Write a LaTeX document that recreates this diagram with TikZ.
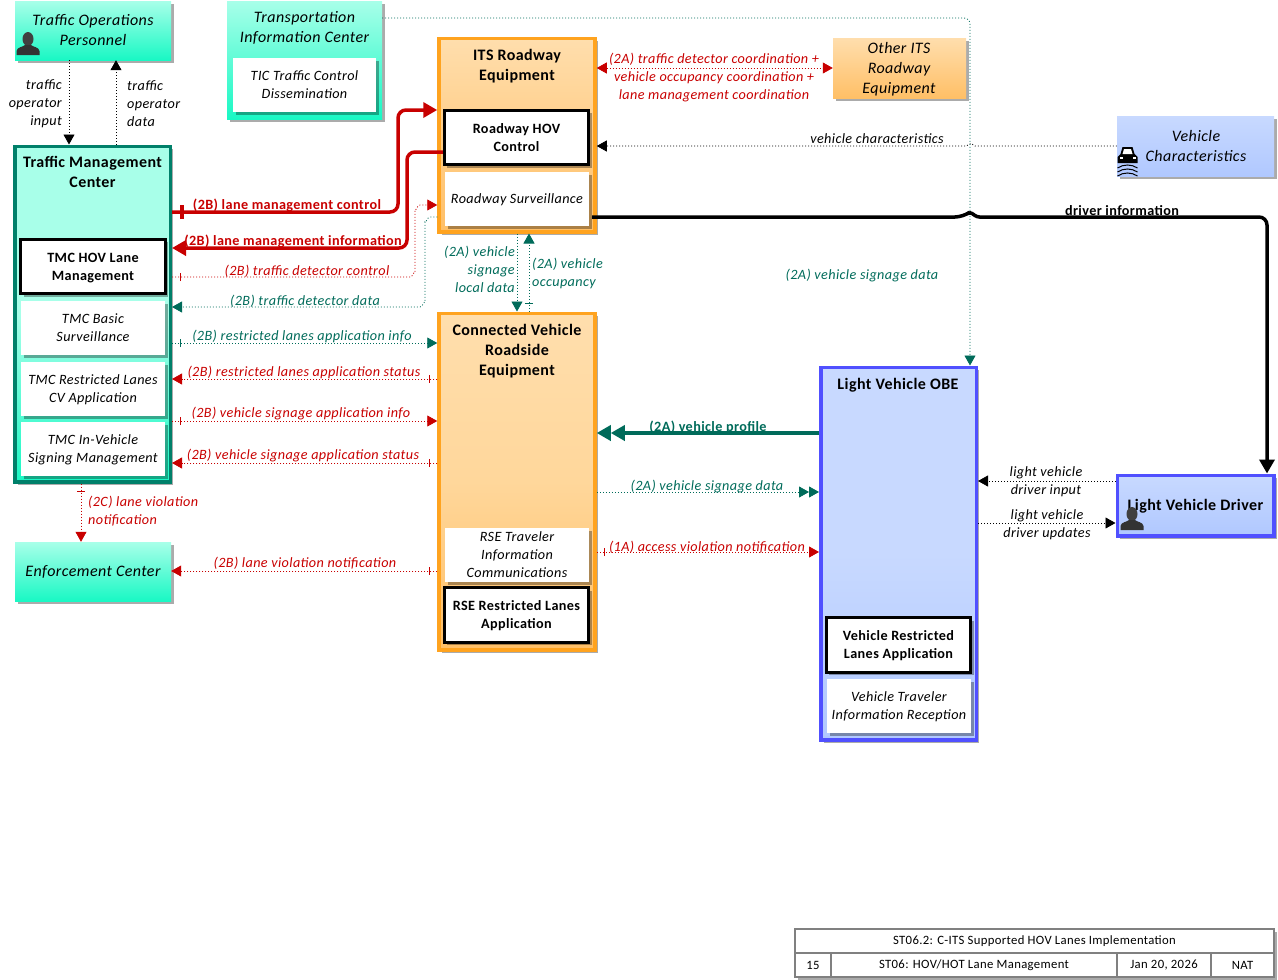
\documentclass[tikz,border=0pt]{standalone}
\usepackage{fontspec}
\setmainfont{Carlito}[LetterSpace=2.7]
\usetikzlibrary{arrows.meta,shadows,decorations.markings}
\definecolor{flow_teal}{HTML}{006B5A}
\definecolor{flow_red}{HTML}{C80000}
\definecolor{tmc_edge}{HTML}{00806A}
\definecolor{rse_edge}{HTML}{FFA31F}
\definecolor{obe_edge}{HTML}{5050FF}
\begin{document}
\begin{tikzpicture}[x=1pt,y=-1pt]
        \tikzstyle{box_shadow} = [drop shadow={shadow xshift=3pt, shadow yshift=-3pt, fill=black, opacity=0.33}]
        \tikzstyle{cyan_box} = [shape = rectangle, box_shadow, top color=cyan_top, bottom color=cyan_bot, inner sep=0pt]
        \tikzstyle{orange_box} = [shape = rectangle, box_shadow, top color=orange_top, bottom color=orange_bot, inner sep=0pt]
        \tikzstyle{blue_box} = [shape = rectangle, box_shadow, top color=blue_top, bottom color=blue_bot, inner sep=0pt]
        \tikzstyle{plain_app} = [shape = rectangle, box_shadow, fill=white, minimum width=144pt, minimum height=54pt, inner sep=0pt, align=center, text depth=0pt, font=\fontsize{14.2}{18}\selectfont\itshape]
        \tikzstyle{key_app} = [plain_app, draw=black, line width=3pt, minimum width=144.5pt, minimum height=54.5pt, font=\fontsize{14.2}{18}\selectfont\bfseries\upshape]
        \tikzstyle{head_text} = [align=center, inner sep=0pt, yshift=-1pt, font=\fontsize{16}{20}\selectfont\bfseries]
        \tikzstyle{name_text} = [align=center, inner sep=0pt, yshift=-1pt, font=\fontsize{16}{20}\selectfont\itshape]
        \tikzstyle{flow_text} = [align=center, inner sep=0pt, yshift=-1pt, font=\fontsize{14.2}{18}\selectfont\itshape]
        \tikzstyle{main_text} = [align=center, inner sep=0pt, yshift=-1pt, font=\fontsize{14.2}{18}\selectfont\bfseries]
        \tikzstyle{dot_flow} = [line width=0.8pt, dash pattern=on 1pt off 2pt, -{Triangle[length=10pt,width=11pt]}]
        \tikzstyle{main_flow} = [line width=3.5pt, rounded corners=8pt, -{Triangle[length=14pt,width=15pt]}]
        \tikzstyle{grid_cell} = [shape = rectangle, draw=black!50, line width=1.3pt, fill=white, inner sep=0pt, font=\fontsize{12.7}{14}\selectfont]
        \tikzset{
          cross_bar/.style={postaction={decorate, decoration={markings,
            mark=at position #1 with {\draw[solid,-] (0,-4pt) -- (0,4pt);}}}},
          cross_bar_main/.style={postaction={decorate, decoration={markings,
            mark=at position #1 with {\draw[solid,-] (0,-7pt) -- (0,7pt);}}}},
          person_icon/.pic={
            \fill[black!75] (0,-5) ellipse [x radius=5.5, y radius=7];
            \fill[black!80] (-11.5,11) -- (-11.5,7) .. controls (-11,3) and (-5,3) .. (-3,1) -- (3,1) .. controls (5,3) and (11,3) .. (11.5,7) -- (11.5,11) -- cycle;
          },
          car_icon/.pic={
            \fill[black] (-10,-4) -- (-10,2) -- (10,2) -- (10,-4) -- (7,-7) -- (5,-14) -- (-5,-14) -- (-7,-7) -- cycle;
            \fill[white] (-5,-7) -- (-3.5,-12) -- (3.5,-12) -- (5,-7) -- cycle;
            \fill[white] (-8,-4) rectangle (-5,-2);
            \fill[white] (5,-4) rectangle (8,-2);
            \draw[black, line width=1pt] (-10,7) .. controls (-4,3) and (4,3) .. (10,7);
            \draw[black, line width=1pt] (-10,11) .. controls (-4,7) and (4,7) .. (10,11);
            \draw[black, line width=1pt] (-10,15) .. controls (-4,11) and (4,11) .. (10,15);
          }
        }
        \definecolor{cyan_top}{HTML}{A8FFE9}
        \definecolor{cyan_bot}{HTML}{19F8C4}
        \definecolor{orange_top}{HTML}{FFDEAD}
        \definecolor{orange_mid}{HTML}{FFD79B}
        \definecolor{orange_bot}{HTML}{FFBF66}
        \definecolor{blue_top}{HTML}{C8D9FF}
        \definecolor{blue_bot}{HTML}{B0C8FF}

        \useasboundingbox (0,0) rectangle (1278,980);

        % centers and terminators
        \node[cyan_box, minimum width=156pt, minimum height=59pt] at (93, 30.5) (top_box) {};
        \node[name_text] at (93, 29) (top_text) {Traffic Operations\\Personnel};
        \pic at (28, 44) {person_icon};

        \node[cyan_box, minimum width=155pt, minimum height=118pt] at (304.5, 60) (tic_box) {};
        \node[name_text] at (304.5, 27) (tic_text) {Transportation\\Information Center};
        \node[plain_app, minimum width=143pt] at (304.5, 85) (tic_control) {TIC Traffic Control\\Dissemination};

        \node[cyan_box, middle color=cyan_top, draw=tmc_edge, line width=3.5pt, minimum width=155.5pt, minimum height=335.5pt] at (92.5, 314) (tmc_box) {};
        \node[head_text] at (92.5, 171) (tmc_text) {Traffic Management\\Center};
        \node[key_app] at (93, 266.5) (tmc_hov) {TMC HOV Lane\\Management};
        \node[plain_app] at (93, 327.5) (tmc_basic) {TMC Basic\\Surveillance};
        \node[plain_app] at (93, 388.5) (tmc_cv) {TMC Restricted Lanes\\CV Application};
        \node[plain_app] at (93, 448.5) (tmc_signing) {TMC In-Vehicle\\Signing Management};

        \node[cyan_box, minimum width=156pt, minimum height=59pt] at (93, 571.5) (enf_box) {};
        \node[name_text] at (93, 571) (enf_text) {Enforcement Center};

        \node[orange_box, draw=rse_edge, line width=3.5pt, minimum width=156pt, minimum height=193.5pt] at (517, 135) (its_box) {};
        \node[head_text] at (517, 65) (its_text) {ITS Roadway\\Equipment};
        \node[key_app] at (516.5, 137.5) (its_hov) {Roadway HOV\\Control};
        \node[plain_app] at (517, 199) (its_surv) {Roadway Surveillance};

        \node[orange_box, middle color=orange_mid, draw=rse_edge, line width=3.5pt, minimum width=156pt, minimum height=336.5pt] at (517, 481.5) (rse_box) {};
        \node[head_text] at (517, 350) (rse_text) {Connected Vehicle\\Roadside\\Equipment};
        \node[plain_app] at (517, 555) (rse_info) {RSE Traveler\\Information\\Communications};
        \node[key_app] at (516.5, 615) (rse_lanes) {RSE Restricted Lanes\\Application};

        \node[orange_box, minimum width=133pt, minimum height=60pt] at (899.5, 68) (other_box) {};
        \node[name_text] at (899, 68) (other_text) {Other ITS\\Roadway\\Equipment};

        \node[blue_box, minimum width=157pt, minimum height=60pt] at (1195.5, 146) (vc_box) {};
        \node[name_text] at (1196, 145) (vc_text) {Vehicle\\Characteristics};
        \pic at (1127.5, 161) {car_icon};

        \node[blue_box, middle color=blue_top, draw=obe_edge, line width=3.5pt, minimum width=155.5pt, minimum height=372.5pt] at (898.5, 553.5) (obe_box) {};
        \node[head_text] at (898, 384) (obe_text) {Light Vehicle OBE};
        \node[key_app] at (898.5, 645) (obe_lanes) {Vehicle Restricted\\Lanes Application};
        \node[plain_app] at (899, 706) (obe_info) {Vehicle Traveler\\Information Reception};

        \node[blue_box, draw=obe_edge, line width=3.5pt, minimum width=156.5pt, minimum height=60.5pt] at (1195.5, 505.5) (drv_box) {};
        \node[head_text] at (1195.5, 505) (drv_text) {Light Vehicle Driver};
        \pic at (1132, 519) {person_icon};

        % title block
        \node[grid_cell, box_shadow, minimum width=479pt, minimum height=48pt] at (1034.5, 953) (grid_back) {};
        \node[grid_cell, minimum width=479pt, minimum height=24pt] at (1034.5, 941) (grid_title) {ST06.2: C-ITS Supported HOV Lanes Implementation};
        \node[grid_cell, minimum width=36pt, minimum height=24pt] at (813, 965) (grid_page) {15};
        \node[grid_cell, minimum width=286pt, minimum height=24pt] at (974, 965) (grid_name) {ST06: HOV/HOT Lane Management};
        \node[grid_cell, minimum width=94pt, minimum height=24pt] at (1164, 965) (grid_date) {Jan 20, 2026};
        \node[grid_cell, minimum width=63pt, minimum height=24pt] at (1242.5, 965) (grid_region) {NAT};

        % thin flows
        \draw[dot_flow, black]
          (top_box.south -| 69,0) -- (tmc_box.north -| 69,0);
        \draw[dot_flow, black]
          (tmc_box.north -| 116,0) -- (top_box.south -| 116,0);
        \draw[dot_flow, flow_red, cross_bar=8pt]
          (tmc_box.east |- 0,277) -- (410,277) to[out=0,in=90] (415,272) -- (415,210) to[out=-90,in=180] (420,205) -- (its_box.west |- 0,205);
        \draw[dot_flow, flow_teal]
          (its_box.west |- 0,217) -- (430,217) to[out=180,in=-90] (425,222) -- (425,302) to[out=90,in=0] (420,307) -- (tmc_box.east |- 0,307);
        \draw[dot_flow, flow_teal, cross_bar=8pt]
          (tmc_box.east |- 0,343) -- (rse_box.west |- 0,343);
        \draw[dot_flow, flow_red, cross_bar=8pt]
          (rse_box.west |- 0,379) -- (tmc_box.east |- 0,379);
        \draw[dot_flow, flow_red, cross_bar=8pt]
          (tmc_box.east |- 0,421) -- (rse_box.west |- 0,421);
        \draw[dot_flow, flow_red, cross_bar=8pt]
          (rse_box.west |- 0,463) -- (tmc_box.east |- 0,463);
        \draw[dot_flow, flow_red, cross_bar=8pt]
          (tmc_box.south -| 81,0) -- (enf_box.north -| 81,0);
        \draw[dot_flow, flow_red, cross_bar=8pt]
          (rse_box.west |- 0,571) -- (enf_box.east |- 0,571);
        \draw[dot_flow, flow_teal]
          (its_box.south -| 517,0) -- (rse_box.north -| 517,0);
        \draw[dot_flow, flow_teal, cross_bar=8pt]
          (rse_box.north -| 529,0) -- (its_box.south -| 529,0);
        \draw[dot_flow, flow_red, {Triangle[length=10pt,width=11pt]}-{Triangle[length=10pt,width=11pt]}]
          (its_box.east |- 0,68) -- (other_box.west |- 0,68);
        \draw[dot_flow, black]
          (vc_box.west |- 0,146) -- (975,146) -- (971,143.5) -- (966,146) -- (its_box.east |- 0,146);
        \draw[dot_flow, flow_teal, rounded corners=6pt]
          (tic_box.east |- 0,18) -- (970,18) -- (obe_box.north -| 970,0);
        \draw[dot_flow, flow_teal, -{Triangle[length=10pt,width=11pt].Triangle[length=10pt,width=11pt]}]
          (rse_box.east |- 0,492) -- (obe_box.west |- 0,492);
        \draw[dot_flow, flow_red, cross_bar=8pt]
          (rse_box.east |- 0,552) -- (obe_box.west |- 0,552);
        \draw[dot_flow, black]
          (drv_box.west |- 0,481) -- (obe_box.east |- 0,481);
        \draw[dot_flow, black]
          (obe_box.east |- 0,523) -- (drv_box.west |- 0,523);

        % thick flows
        \draw[main_flow, flow_red, cross_bar_main=10pt]
          (tmc_box.east |- 0,212) -- (398,212) -- (398,110) -- (its_box.west |- 0,110);
        \draw[main_flow, flow_red]
          (its_hov.west |- 0,152) -- (407,152) -- (407,248) -- (tmc_box.east |- 0,248);
        \draw[main_flow, black]
          ([xshift=3pt]its_surv.east |- 0,217) -- (963,217) [rounded corners=2.5pt] -- (970,212) -- (977,217) [rounded corners=8pt] -- (1267,217) -- (drv_box.north -| 1267,0);
        \draw[main_flow, flow_teal, -{Triangle[length=14pt,width=15pt].Triangle[length=14pt,width=15pt]}]
          (obe_box.west |- 0,433) -- (rse_box.east |- 0,433);

        % flow labels
        \node[flow_text, anchor=east, align=right] at (62, 103) (l_input) {traffic\\operator\\input};
        \node[flow_text, anchor=west, align=left] at (127, 103) (l_data) {traffic\\operator\\data};
        \node[main_text, text=flow_red] at (287, 204) (l_control) {(2B) lane management control};
        \node[main_text, text=flow_red] at (293, 240) (l_info) {(2B) lane management information};
        \node[flow_text, text=flow_red] at (307, 270) (l_det_ctl) {(2B) traffic detector control};
        \node[flow_text, text=flow_teal] at (305, 300) (l_det_data) {(2B) traffic detector data};
        \node[flow_text, text=flow_teal] at (302, 335) (l_lanes_info) {(2B) restricted lanes application info};
        \node[flow_text, text=flow_red] at (304, 371) (l_lanes_stat) {(2B) restricted lanes application status};
        \node[flow_text, text=flow_red] at (301, 413) (l_sign_info) {(2B) vehicle signage application info};
        \node[flow_text, text=flow_red] at (303, 455) (l_sign_stat) {(2B) vehicle signage application status};
        \node[flow_text, text=flow_red] at (305, 562) (l_viol) {(2B) lane violation notification};
        \node[flow_text, text=flow_red, anchor=west, align=left] at (88, 510) (l_viol_c) {(2C) lane violation\\notification};
        \node[flow_text, text=flow_teal, anchor=east, align=right] at (515, 268) (l_local) {(2A) vehicle\\signage\\local data};
        \node[flow_text, text=flow_teal, anchor=west, align=left] at (532, 272) (l_occ) {(2A) vehicle\\occupancy};
        \node[flow_text, text=flow_red] at (714, 76.5) (l_coord) {(2A) traffic detector coordination +\\vehicle occupancy coordination +\\lane management coordination};
        \node[flow_text, text=black] at (877, 138) (l_char) {vehicle characteristics};
        \node[main_text, text=black] at (1122, 210) (l_driver) {driver information};
        \node[flow_text, text=flow_teal] at (862, 275) (l_sign_far) {(2A) vehicle signage data};
        \node[main_text, text=flow_teal] at (708, 426) (l_profile) {(2A) vehicle profile};
        \node[flow_text, text=flow_teal] at (707, 486) (l_sign_near) {(2A) vehicle signage data};
        \node[flow_text, text=flow_red] at (707, 546) (l_access) {(1A) access violation notification};
        \node[flow_text] at (1046, 480.5) (l_drv_in) {light vehicle\\driver input};
        \node[flow_text] at (1047, 523.5) (l_drv_up) {light vehicle\\driver updates};
      \end{tikzpicture}
\end{document}
